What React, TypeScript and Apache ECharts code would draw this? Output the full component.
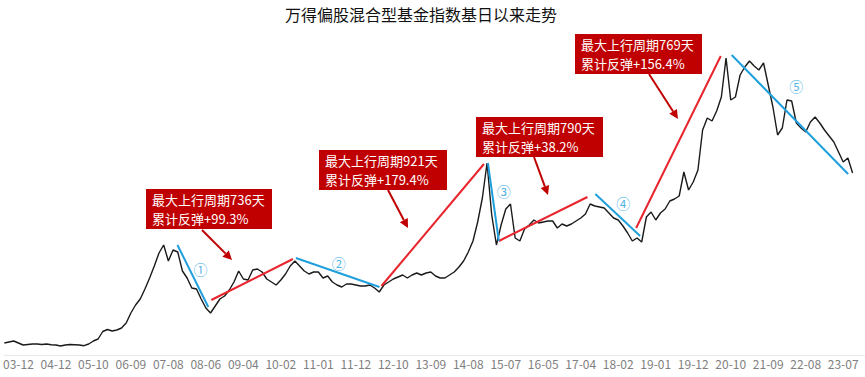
import React, { useEffect, useRef } from 'react';
import * as echarts from 'echarts';

// x-axis tick labels (YY-MM)
const tickLabels = ['03-12', '04-12', '05-10', '06-09', '07-08', '08-06', '09-04', '10-02', '11-01', '11-12', '12-10', '13-09', '14-08', '15-07', '16-05', '17-04', '18-02', '19-01', '19-12', '20-10', '21-09', '22-08', '23-07'];

// index level, sampled at regular steps (8 samples per tick-label interval)
const indexValues = [
  1000, 1050, 1100, 1000, 900, 925, 950, 950, 925, 950,
  915, 900, 850, 900, 925, 915, 900, 865, 950, 1100,
  1200, 1575, 1675, 1600, 1650, 1750, 2000, 2500, 2900, 3200,
  3700, 4250, 4850, 5500, 5900, 5100, 5650, 5550, 4600, 4250,
  3750, 3700, 3200, 2750, 2500, 2850, 3200, 3350, 3650, 4050,
  4600, 4200, 4150, 4650, 4700, 4550, 4200, 4050, 3900, 4150,
  4450, 4850, 5100, 4850, 4600, 4450, 4550, 4550, 4250, 4350,
  4050, 3900, 3800, 3950, 3950, 3900, 3850, 3850, 3900, 3750,
  3550, 3900, 4050, 4200, 4300, 4400, 4250, 4400, 4500, 4400,
  4500, 4550, 4350, 4250, 4250, 4400, 4550, 4800, 5100, 5550,
  6100, 7050, 8250, 10000, 7400, 5900, 6900, 7700, 7950, 6250,
  6100, 6700, 6900, 7150, 7000, 7050, 7100, 7100, 6750, 6950,
  6850, 6950, 7100, 7250, 7450, 7950, 7850, 7800, 7750, 7500,
  7250, 7150, 6850, 6500, 6100, 6250, 6050, 7300, 7550, 7150,
  7500, 7700, 8100, 8200, 8350, 9550, 8650, 9050, 9650, 11650,
  12250, 12100, 12600, 13300, 15250, 13150, 13300, 14400, 14800, 15100,
  14850, 14650, 15000, 13900, 12800, 11400, 11750, 13150, 13100, 12000,
  11750, 11550, 12050, 12300, 12000, 11650, 11350, 11050, 10550, 10050,
  10250, 9500,
];

const LABEL_START = 3;
const LABEL_STEP = 8;

// rebound phases
const upDays = [736, 921, 790, 769];
const upReturns = [99.3, 179.4, 38.2, 156.4];
// trend segments in data space: [x1, y1, x2, y2]
const upTrends = [
  [44.16, 3150, 61.57, 5200],
  [80.47, 3850, 102.34, 9950],
  [105.52, 6100, 124.42, 8300],
  [134.82, 6750, 152.87, 15350],
];
const downTrends = [
  [36.94, 5900, 43.52, 2800],
  [62.21, 5250, 80.04, 3800],
  [103.18, 10000, 105.52, 6100],
  [126.11, 8450, 135.67, 6350],
  [155.2, 15400, 180.04, 9450],
];
const downMarks = ['①', '②', '③', '④', '⑤'];
const downMarkPos = [
  [41.83, 4700],
  [71.34, 5000],
  [106.58, 8600],
  [132.06, 8000],
  [169.0, 13850],
];

const FONT = '"Noto Sans CJK SC", "Microsoft YaHei", sans-serif';
const BOX_RED = '#c00000';
const LINE_RED = '#e8242c';
const BLUE = '#1fa0dc';

// annotation layout (pixels)
const boxes = [
  { x: 146, y: 189, w: 126, h: 40 },
  { x: 319, y: 150, w: 128, h: 40 },
  { x: 476, y: 117, w: 127, h: 40 },
  { x: 575, y: 34, w: 127, h: 40 },
];
const arrows = [
  [202, 230, 232, 260],
  [388, 190, 408, 228],
  [534, 157, 548, 195],
  [649, 74, 678, 119],
];

function arrowEls(x1: number, y1: number, x2: number, y2: number, color: string) {
  const ang = Math.atan2(y2 - y1, x2 - x1);
  const L = 9;
  const W = 4.5;
  const bx = x2 - L * Math.cos(ang);
  const by = y2 - L * Math.sin(ang);
  const px = -Math.sin(ang);
  const py = Math.cos(ang);
  return [
    { type: 'line', silent: true, shape: { x1, y1, x2: bx, y2: by }, style: { stroke: color, lineWidth: 2 } },
    {
      type: 'polygon',
      silent: true,
      shape: { points: [[x2, y2], [bx + px * W, by + py * W], [bx - px * W, by - py * W]] },
      style: { fill: color },
    },
  ];
}

export default function App() {
  const ref = useRef<HTMLDivElement>(null);

  useEffect(() => {
    if (!ref.current) return;
    const chart = echarts.init(ref.current, null, { renderer: 'svg' });

    const lineData = indexValues.map((v, i) => [i, v]);
    const labelValues = tickLabels.map((_, k) => LABEL_START + k * LABEL_STEP);

    const markLines: any[] = [];
    upTrends.forEach((t) => {
      markLines.push([
        { coord: [t[0], t[1]], lineStyle: { color: LINE_RED, width: 2, type: 'solid' } },
        { coord: [t[2], t[3]] },
      ]);
    });
    downTrends.forEach((t) => {
      markLines.push([
        { coord: [t[0], t[1]], lineStyle: { color: BLUE, width: 2, type: 'solid' } },
        { coord: [t[2], t[3]] },
      ]);
    });

    const graphics: any[] = [
      {
        type: 'text',
        x: 421,
        y: 14,
        style: {
          text: '万得偏股混合型基金指数基日以来走势',
          font: `16px ${FONT}`,
          fill: '#111',
          textAlign: 'center',
          textVerticalAlign: 'middle',
        },
      },
    ];
    boxes.forEach((b, k) => {
      graphics.push({
        type: 'group',
        x: b.x,
        y: b.y,
        children: [
          { type: 'rect', shape: { x: 0, y: 0, width: b.w, height: b.h }, style: { fill: BOX_RED } },
          {
            type: 'text',
            x: 6,
            y: 10.5,
            style: {
              text: `最大上行周期${upDays[k]}天`,
              font: `13px ${FONT}`,
              fill: '#ffffff',
              textVerticalAlign: 'middle',
            },
          },
          {
            type: 'text',
            x: 6,
            y: 29.5,
            style: {
              text: `累计反弹+${upReturns[k].toFixed(1)}%`,
              font: `13px ${FONT}`,
              fill: '#ffffff',
              textVerticalAlign: 'middle',
            },
          },
        ],
      });
    });
    arrows.forEach((a) => {
      graphics.push(...arrowEls(a[0], a[1], a[2], a[3], BOX_RED));
    });

    chart.setOption({
      animation: false,
      grid: { left: 0, right: 0, top: 20, bottom: 22 },
      xAxis: {
        type: 'value',
        min: 0,
        max: 183.65,
        axisLine: { show: true, lineStyle: { color: '#e8e8e8', width: 1 } },
        axisTick: { show: false },
        splitLine: { show: false },
        axisLabel: {
          customValues: labelValues,
          formatter: (v: number) => tickLabels[Math.round((v - LABEL_START) / LABEL_STEP)] ?? '',
          color: '#808080',
          fontSize: 12,
          fontFamily: FONT,
          margin: 2,
        },
      },
      yAxis: {
        type: 'value',
        min: 400,
        max: 17150,
        show: false,
        splitLine: { show: false },
      },
      series: [
        {
          type: 'line',
          data: lineData,
          showSymbol: false,
          symbol: 'none',
          lineStyle: { color: '#1a1a1a', width: 1.4 },
          silent: true,
          markLine: {
            silent: true,
            symbol: ['none', 'none'],
            label: { show: false },
            data: markLines,
          },
          z: 2,
        },
        {
          type: 'scatter',
          data: downMarkPos.map((p, k) => [p[0], p[1], downMarks[k]]),
          symbolSize: 1,
          itemStyle: { color: 'transparent' },
          silent: true,
          label: {
            show: true,
            position: 'inside',
            formatter: (p: any) => p.value[2],
            color: BLUE,
            fontSize: 14,
            fontFamily: FONT,
          },
          z: 3,
        },
      ],
      graphic: graphics,
    });

    return () => chart.dispose();
  }, []);

  return (
    <div
      ref={ref}
      style={{ position: 'fixed', left: 0, top: 0, width: 865, height: 377, background: '#fff' }}
    />
  );
}
